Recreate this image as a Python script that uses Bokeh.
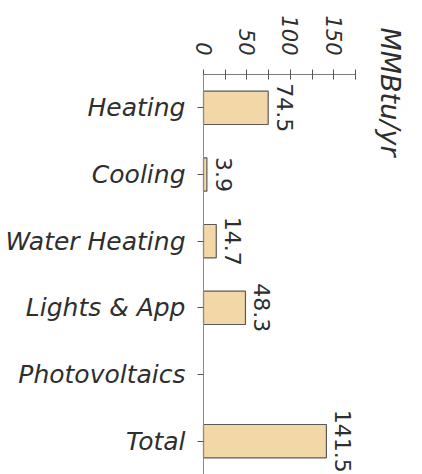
import math
from bokeh.plotting import figure
from bokeh.models import ColumnDataSource, Range1d, FixedTicker, Label, LabelSet
from bokeh.core.properties import value
from bokeh.embed import file_html
from bokeh.resources import INLINE

categories = ["Heating", "Cooling", "Water Heating", "Lights & App", "Photovoltaics", "Total"]
energy = [74.5, 3.9, 14.7, 48.3, None, 141.5]
x_ticks = [0, 50, 100, 150]
x_minor_ticks = [25, 75, 125, 175]
unit_label = "MMBtu/yr"

FONT = "DejaVu Sans"
TEXT_COLOR = "#2e2e2e"

idx = [i for i, v in enumerate(energy) if v is not None]
src = ColumnDataSource(dict(
    y=idx,
    v=[energy[i] for i in idx],
    lbl=[f"{energy[i]:.1f}" for i in idx],
))

# The frame spans the whole canvas; the axes are drawn at fixed locations inside it.
W, H = 422, 474
ax_left, ax_right, ax_top = 203, 355, 74     # pixel positions of value 0, value 175, top of categories
xmax = 175
px_x = (ax_right - ax_left) / xmax
n = len(categories)
px_y = (H - ax_top) / n
x0 = -ax_left / px_x
x1 = (W - ax_left) / px_x
y_top = -0.5 - ax_top / px_y
y_bot = n - 0.5

p = figure(width=W, height=H, output_backend="svg", toolbar_location=None,
           x_range=Range1d(x0, x1), y_range=Range1d(y_bot, y_top),
           x_axis_location="above",
           min_border_left=0, min_border_right=0, min_border_top=0, min_border_bottom=0)
p.outline_line_color = None
p.grid.visible = False
p.background_fill_color = "white"
p.border_fill_color = "white"

p.hbar(y="y", right="v", left=0, height=0.5, source=src,
       fill_color="#F2D8A6", line_color="#5a5a5a", line_width=1.2)

p.add_layout(LabelSet(x="v", y="y", text="lbl", source=src, angle=-math.pi / 2,
                      text_align="center", text_baseline="alphabetic",
                      x_offset=9, y_offset=0,
                      text_font=value(FONT), text_font_size=value("22px"),
                      text_color=value(TEXT_COLOR)))

xa = p.xaxis[0]
xa.fixed_location = -0.5
xa.bounds = (0, xmax)
xa.ticker = FixedTicker(ticks=x_ticks, minor_ticks=x_minor_ticks)
xa.major_label_orientation = -math.pi / 2
xa.major_label_text_font = FONT
xa.major_label_text_font_style = "italic"
xa.major_label_text_font_size = "21px"
xa.major_label_text_color = TEXT_COLOR
xa.major_label_standoff = 14
xa.major_tick_in = 5
xa.major_tick_out = 5
xa.minor_tick_in = 5
xa.minor_tick_out = 5
xa.axis_line_color = "#7a7a7a"
xa.major_tick_line_color = "#555555"
xa.minor_tick_line_color = "#555555"

ya = p.yaxis[0]
ya.fixed_location = 0
ya.bounds = (-0.5, n - 0.5)
ya.ticker = FixedTicker(ticks=list(range(n)), minor_ticks=[])
ya.major_label_overrides = {i: c for i, c in enumerate(categories)}
ya.major_label_text_font = FONT
ya.major_label_text_font_style = "italic"
ya.major_label_text_font_size = "25px"
ya.major_label_text_color = TEXT_COLOR
ya.major_label_standoff = 12
ya.major_tick_in = 0
ya.major_tick_out = 6
ya.axis_line_color = "#8a8a8a"
ya.major_tick_line_color = "#555555"

p.add_layout(Label(x=390, y=27, x_units="canvas", y_units="canvas", text=unit_label,
                   angle=-math.pi / 2, text_align="left", text_baseline="alphabetic",
                   text_font=FONT, text_font_style="italic", text_font_size="27px",
                   text_color=TEXT_COLOR))

open("out.html", "w").write(file_html(p, INLINE))
